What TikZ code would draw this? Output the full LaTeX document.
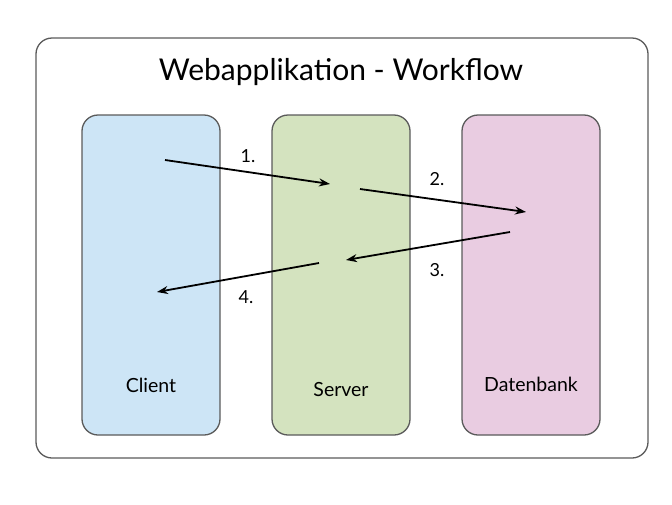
\documentclass[tikz,border=0pt]{standalone}
\usepackage{fontspec}
\setmainfont{Lato}
\usetikzlibrary{arrows.meta}

\definecolor{clientblue}{RGB}{205,229,246}
\definecolor{servergreen}{RGB}{212,227,191}
\definecolor{dbpink}{RGB}{233,204,225}
\definecolor{rim}{RGB}{90,90,90}

\tikzset{
  tier/.style={draw=rim, line width=1.3pt, rounded corners=16pt, minimum width=138pt, minimum height=320pt},
  flow/.style={line width=1.8pt, -{Stealth[length=11pt,width=8pt]}},
  stepnum/.style={font=\fontsize{18}{18}\selectfont},
}

\begin{document}
\begin{tikzpicture}[x=1pt,y=-1pt]
            \useasboundingbox (0,0) rectangle (672,504);
            % Frame and title
            \draw[draw=rim, line width=1.3pt, rounded corners=16pt] (36,38) rectangle (648,458);
            \node[font=\fontsize{30}{30}\selectfont] (title) at (341,72) {Webapplikation - Workflow};

            % Tiers
            \foreach \nm/\x/\col/\txt/\ty in {client/151/clientblue/Client/385, server/341/servergreen/Server/390, db/531/dbpink/Datenbank/384} {
                \node[tier, fill=\col] (\nm) at (\x,275) {};
                \node[font=\fontsize{19.5}{19.5}\selectfont] (\nm-label) at (\x,\ty) {\txt};
            }

            % Arrows
            \coordinate (a1) at (165,160);
            \coordinate (b1) at (330,184);
            \coordinate (a2) at (360,189);
            \coordinate (b2) at (526,212);
            \coordinate (a3) at (510,232);
            \coordinate (b3) at (346,260);
            \coordinate (a4) at (319,263);
            \coordinate (b4) at (157,292);
            \foreach \s in {1,...,4} {
                \draw[flow] (a\s) -- (b\s);
            }

            % Step numbers
            \node[stepnum] (s1) at (248,156) {1.};
            \node[stepnum] (s2) at (437,179) {2.};
            \node[stepnum] (s3) at (437,270) {3.};
            \node[stepnum] (s4) at (246,297) {4.};
        \end{tikzpicture}
\end{document}
